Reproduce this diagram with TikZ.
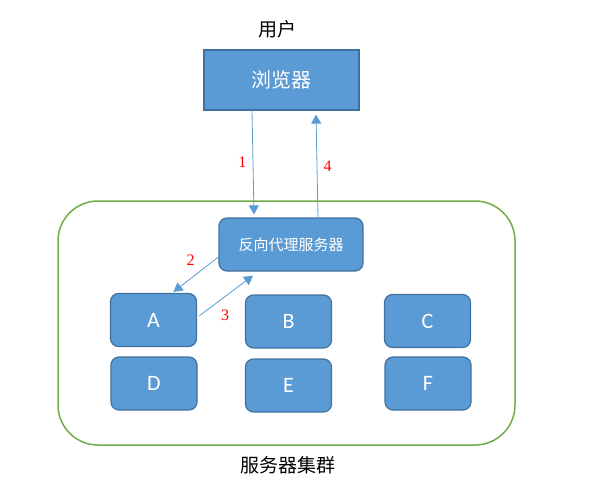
\documentclass[tikz,border=0pt]{standalone}
\usepackage{fontspec}
\setmainfont{Noto Sans CJK SC}
\newfontfamily\lettres{Carlito}
\newfontfamily\chiffres{Liberation Serif}
\usetikzlibrary{arrows.meta}
\definecolor{bleu}{HTML}{5B9BD5}
\definecolor{bleufonce}{HTML}{41719C}
\definecolor{vert}{HTML}{70AD47}

\begin{document}
\begin{tikzpicture}[x=1pt,y=-1pt]
	% STYLES
	\tikzstyle{boite} = [draw=bleufonce, fill=bleu, line width=1.2pt, text=white, inner sep=0pt]
	\tikzstyle{serveur} = [boite, rounded corners=8pt, minimum width=86pt, minimum height=53pt, font=\lettres\fontsize{22}{22}\selectfont]
	\tikzstyle{fleche} = [draw=bleu, line width=0.8pt, -{Triangle[width=10pt,length=9pt]}]
	\tikzstyle{etape} = [text=red, font=\chiffres\fontsize{16}{16}\selectfont]
	\tikzstyle{legende} = [font=\fontsize{19}{19}\selectfont]

	\useasboundingbox (0,0) rectangle (593,497);

	% CLUSTER
	\draw[vert, line width=1.5pt, rounded corners=40pt] (58,201) rectangle (515,445);

	% NOEUDS
	\node[legende] at (277, 29) (user) {用户};
	\node[boite, minimum width=155pt, minimum height=60pt, font=\fontsize{20}{20}\selectfont] at (281.5, 80) (browser) {浏览器};
	\node[boite, rounded corners=8pt, minimum width=144pt, minimum height=53pt, font=\fontsize{15}{15}\selectfont] at (291, 244.5) (proxy) {反向代理服务器};
	\node[serveur] at (153.5, 320) (A) {A};
	\node[serveur] at (288.5, 321.5) (B) {B};
	\node[serveur] at (427.5, 321) (C) {C};
	\node[serveur] at (154, 383.5) (D) {D};
	\node[serveur] at (288.5, 385.5) (E) {E};
	\node[serveur] at (428, 383.5) (F) {F};
	\node[legende] at (288, 465) (cluster) {服务器集群};

	% FLECHES
	\path[fleche] ([xshift=-29.5pt]browser.south) -- ([xshift=-37pt, yshift=3pt]proxy.north)
		node[etape, pos=0.5, left=3pt] {1};
	\path[fleche] ([xshift=27pt]proxy.north) -- ([xshift=34.5pt, yshift=-4pt]browser.south)
		node[etape, pos=0.5, right=3pt] {4};
	\path[fleche] ([yshift=-12.5pt]proxy.west) -- ([xshift=20pt, yshift=1pt]A.north)
		node[etape, pos=0.4, above left=2pt] {2};
	\path[fleche] ([xshift=2pt, yshift=4pt]A.east) -- ([xshift=-38pt, yshift=-4pt]proxy.south)
		node[etape, pos=0.3, below right=2pt] {3};
\end{tikzpicture}
\end{document}
